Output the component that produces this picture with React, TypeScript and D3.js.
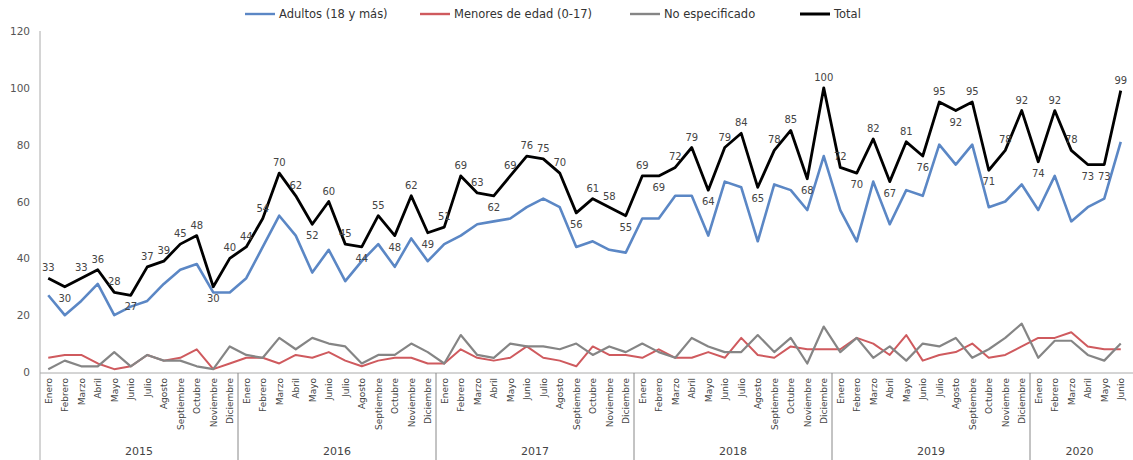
import React from 'react';
import * as d3 from 'd3';

const years = ['2015', '2016', '2017', '2018', '2019', '2020'];
const monthNames = ['Enero', 'Febrero', 'Marzo', 'Abril', 'Mayo', 'Junio', 'Julio', 'Agosto', 'Septiembre', 'Octubre', 'Noviembre', 'Diciembre'];
const monthsPerYear = [12, 12, 12, 12, 12, 6];

const adultos = [
  27, 20, 25, 31, 20, 23, 25, 31, 36, 38, 28, 28,
  33, 44, 55, 48, 35, 43, 32, 39, 45, 37, 47, 39,
  45, 48, 52, 53, 54, 58, 61, 58, 44, 46, 43, 42,
  54, 54, 62, 62, 48, 67, 65, 46, 66, 64, 57, 76,
  57, 46, 67, 52, 64, 62, 80, 73, 80, 58, 60, 66,
  57, 69, 53, 58, 61, 81,
];
const menores = [
  5, 6, 6, 3, 1, 2, 6, 4, 5, 8, 1, 3,
  5, 5, 3, 6, 5, 7, 4, 2, 4, 5, 5, 3,
  3, 8, 5, 4, 5, 9, 5, 4, 2, 9, 6, 6,
  5, 8, 5, 5, 7, 5, 12, 6, 5, 9, 8, 8,
  8, 12, 10, 6, 13, 4, 6, 7, 10, 5, 6, 9,
  12, 12, 14, 9, 8, 8,
];
const noEspecificado = [
  1, 4, 2, 2, 7, 2, 6, 4, 4, 2, 1, 9,
  6, 5, 12, 8, 12, 10, 9, 3, 6, 6, 10, 7,
  3, 13, 6, 5, 10, 9, 9, 8, 10, 6, 9, 7,
  10, 7, 5, 12, 9, 7, 7, 13, 7, 12, 3, 16,
  7, 12, 5, 9, 4, 10, 9, 12, 5, 8, 12, 17,
  5, 11, 11, 6, 4, 10,
];
const total = [
  33, 30, 33, 36, 28, 27, 37, 39, 45, 48, 30, 40,
  44, 54, 70, 62, 52, 60, 45, 44, 55, 48, 62, 49,
  51, 69, 63, 62, 69, 76, 75, 70, 56, 61, 58, 55,
  69, 69, 72, 79, 64, 79, 84, 65, 78, 85, 68, 100,
  72, 70, 82, 67, 81, 76, 95, 92, 95, 71, 78, 92,
  74, 92, 78, 73, 73, 99,
];
const yTicks = [0, 20, 40, 60, 80, 100, 120];

const seriesList = [
  { name: 'Adultos (18 y más)', values: adultos, color: '#5b87c5', width: 2.6 },
  { name: 'Menores de edad (0-17)', values: menores, color: '#cf5a5e', width: 2 },
  { name: 'No especificado', values: noEspecificado, color: '#858585', width: 2.2 },
  { name: 'Total', values: total, color: '#000000', width: 2.8 },
];

const months: { label: string; year: string }[] = [];
years.forEach((y, i) => {
  for (let m = 0; m < monthsPerYear[i]; m++) months.push({ label: monthNames[m], year: y });
});

const W = 1133;
const H = 460;
const FONT = "'DejaVu Sans', sans-serif";

export default function App() {
  const x = d3.scaleBand<number>()
    .domain(months.map((_, i) => i))
    .range([40, 1129])
    .padding(0);
  const bw = x.bandwidth();
  const cx = (i: number) => (x(i) || 0) + bw / 2;

  const y = d3.scaleLinear().domain([0, 120]).range([372, 31]);

  const line = d3.line<number>()
    .x((_, i) => cx(i))
    .y(d => y(d))
    .curve(d3.curveLinear);

  // year bands
  let start = 0;
  const yearBands = years.map((yr, i) => {
    const s = start;
    start += monthsPerYear[i];
    return { yr, x0: x(s) || 0, x1: (x(start - 1) || 0) + bw };
  });

  // legend layout
  const legendItems = [
    { x: 245, ...seriesList[0] },
    { x: 420, ...seriesList[1] },
    { x: 630, ...seriesList[2] },
    { x: 800, ...seriesList[3] },
  ];

  return (
    <svg width={W} height={H} style={{ position: 'absolute', left: 0, top: 0, background: '#fff' }} fontFamily={FONT}>
      {/* legend */}
      {legendItems.map(d => (
        <g key={d.name} transform={`translate(${d.x},14)`}>
          <line x1={0} x2={30} y1={0} y2={0} stroke={d.color} strokeWidth={d.name === 'Total' ? 3 : 2.4} />
          <text x={34} y={4} fontSize={11.5} fill="#333">{d.name}</text>
        </g>
      ))}

      {/* y axis */}
      <line x1={40} x2={40} y1={31} y2={460} stroke="#aaa" strokeWidth={1} />
      {yTicks.map(t => (
        <text key={t} x={30} y={y(t) + 4} textAnchor="end" fontSize={10.5} fill="#555">{t}</text>
      ))}

      {/* x axis */}
      <line x1={40} x2={1133} y1={373} y2={373} stroke="#aaa" strokeWidth={1} />
      {yearBands.map((b, i) => (
        <g key={b.yr}>
          {i > 0 && <line x1={b.x0} x2={b.x0} y1={373} y2={460} stroke="#888" strokeWidth={1} />}
          <text x={(b.x0 + b.x1) / 2} y={455} textAnchor="middle" fontSize={11} fill="#444">{b.yr}</text>
        </g>
      ))}
      {months.map((m, i) => (
        <text key={i} transform={`translate(${cx(i) + 3.5},378) rotate(-90)`} textAnchor="end" fontSize={9} fill="#444">{m.label}</text>
      ))}

      {/* lines */}
      {seriesList.map(s => (
        <path key={s.name} d={line(s.values) || ''} fill="none" stroke={s.color} strokeWidth={s.width} strokeLinejoin="round" />
      ))}

      {/* total labels */}
      {total.map((v, i) => {
        const prev = i > 0 ? total[i - 1] : -Infinity;
        const next = i < total.length - 1 ? total[i + 1] : -Infinity;
        const below = i > 0 && v <= prev && v <= next;
        return (
          <text key={i} x={cx(i)} y={below ? y(v) + 15 : y(v) - 7} textAnchor="middle" fontSize={10} fill="#444">{v}</text>
        );
      })}
    </svg>
  );
}
